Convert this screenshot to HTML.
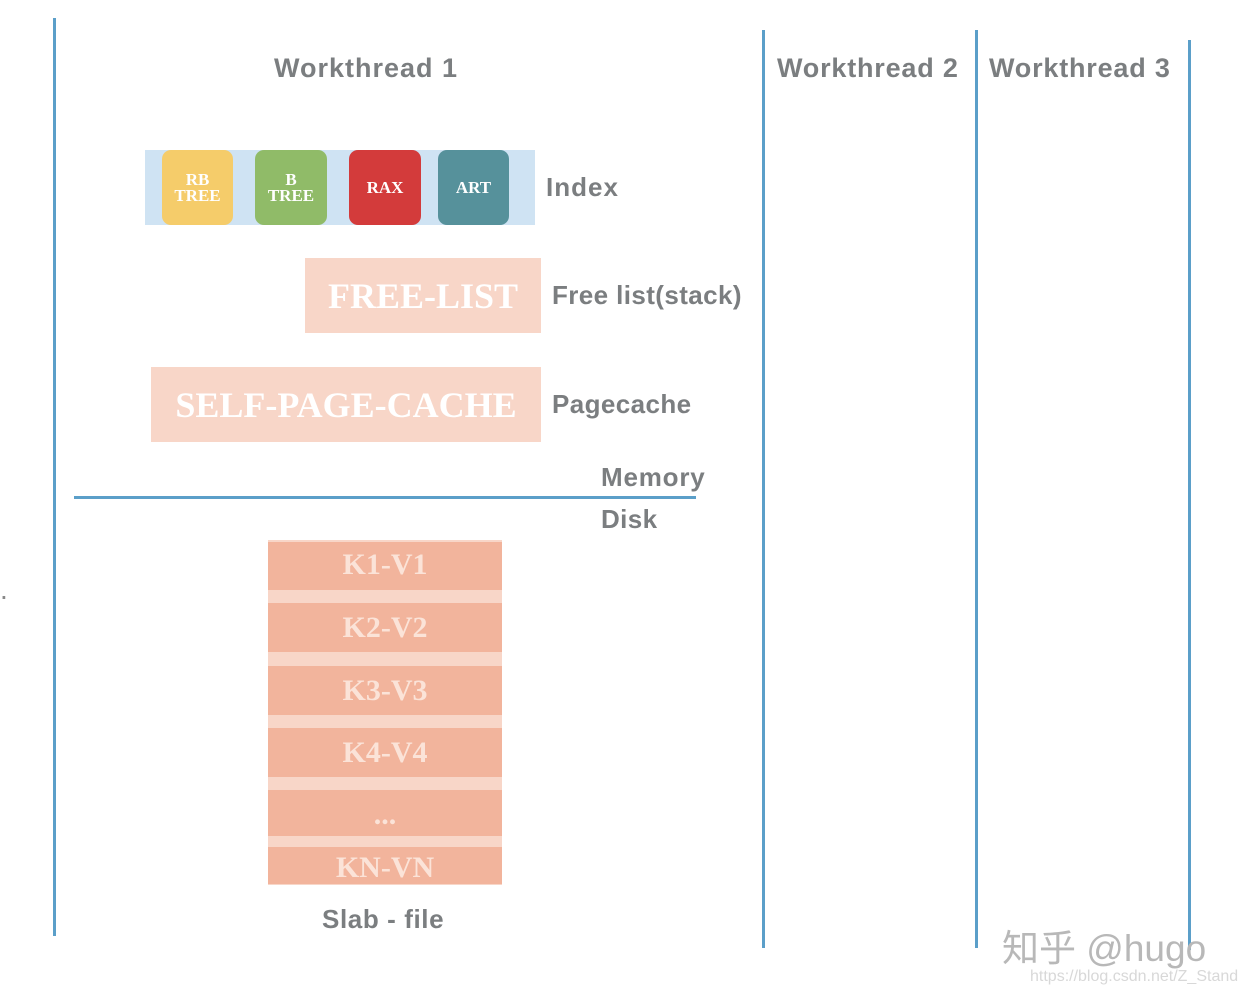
<!DOCTYPE html>
<html><head><meta charset="utf-8"><style>
body{margin:0;width:1244px;height:996px;background:#fff;position:relative;overflow:hidden;font-family:"Liberation Sans",sans-serif}
.a{position:absolute}
.v{position:absolute;width:3px;background:#5b9fc9}
.g{position:absolute;color:#7b7e80;font-weight:bold;white-space:nowrap;letter-spacing:0.4px}
.s{font-family:"Liberation Serif",serif;font-weight:bold;color:#fff;text-align:center;position:absolute}
.r{position:absolute;left:268px;width:234px;background:#f2b49c;font-family:"Liberation Serif",serif;font-weight:bold;color:#fbe3d8;text-align:center;font-size:30px}
</style></head><body>
<div class="v" style="left:53px;top:18px;height:918px"></div>
<div class="v" style="left:762px;top:30px;height:918px"></div>
<div class="v" style="left:975px;top:30px;height:918px"></div>
<div class="v" style="left:1188px;top:40px;height:910px"></div>
<div class="a" style="left:74px;top:496px;width:622px;height:3px;background:#5b9fc9"></div>

<div class="g" style="left:274px;top:53px;font-size:27px;letter-spacing:1px">Workthread 1</div>
<div class="g" style="left:777px;top:53px;font-size:27px;letter-spacing:0.8px">Workthread 2</div>
<div class="g" style="left:989px;top:53px;font-size:27px;letter-spacing:0.8px">Workthread 3</div>

<div class="a" style="left:145px;top:150px;width:390px;height:75px;background:#cfe3f3"></div>
<div class="s" style="left:162px;top:150px;width:71px;height:75px;border-radius:9px;background:#f5cc6a;font-size:17px;line-height:16px"><div style="margin-top:22px">RB<br>TREE</div></div>
<div class="s" style="left:255px;top:150px;width:72px;height:75px;border-radius:9px;background:#90bb68;font-size:17px;line-height:16px"><div style="margin-top:22px">B<br>TREE</div></div>
<div class="s" style="left:349px;top:150px;width:72px;height:75px;border-radius:9px;background:#d33b3b;font-size:17px;line-height:75px">RAX</div>
<div class="s" style="left:438px;top:150px;width:71px;height:75px;border-radius:9px;background:#56919b;font-size:17px;line-height:75px">ART</div>
<div class="g" style="left:546px;top:172px;font-size:26px;letter-spacing:1px">Index</div>

<div class="s" style="left:305px;top:258px;width:236px;height:75px;background:#f8d6c8;font-size:36px;line-height:77px">FREE-LIST</div>
<div class="g" style="left:552px;top:280px;font-size:26px">Free list(stack)</div>

<div class="s" style="left:151px;top:367px;width:390px;height:75px;background:#f8d6c8;font-size:36px;line-height:77px">SELF-PAGE-CACHE</div>
<div class="g" style="left:552px;top:389px;font-size:26px">Pagecache</div>

<div class="g" style="left:601px;top:462px;font-size:26px;letter-spacing:0.8px">Memory</div>
<div class="g" style="left:601px;top:504px;font-size:26px">Disk</div>

<div class="a" style="left:268px;top:540px;width:234px;height:345px;background:#f8d6c8"></div>
<div class="r" style="top:542px;height:48px;line-height:46px">K1-V1</div>
<div class="r" style="top:603px;height:49px;line-height:49px">K2-V2</div>
<div class="r" style="top:666px;height:49px;line-height:49px">K3-V3</div>
<div class="r" style="top:728px;height:49px;line-height:49px">K4-V4</div>
<div class="r" style="top:790px;height:46px;line-height:50px">...</div>
<div class="r" style="top:847px;height:37px;line-height:42px">KN-VN</div>
<div class="g" style="left:322px;top:904px;font-size:26px;letter-spacing:0.6px">Slab - file</div>

<div class="a" style="left:0px;top:574px;color:#888;font-size:28px">.</div>
<div class="a" style="left:1002px;top:918px;color:#b8b8b8;font-size:37px;font-family:'Liberation Sans','Noto Sans CJK SC',sans-serif">知乎 @hugo</div>
<div class="a" style="left:1030px;top:968px;color:#d8d8d8;font-size:16px">https://blog.csdn.net/Z_Stand</div>
</body></html>
